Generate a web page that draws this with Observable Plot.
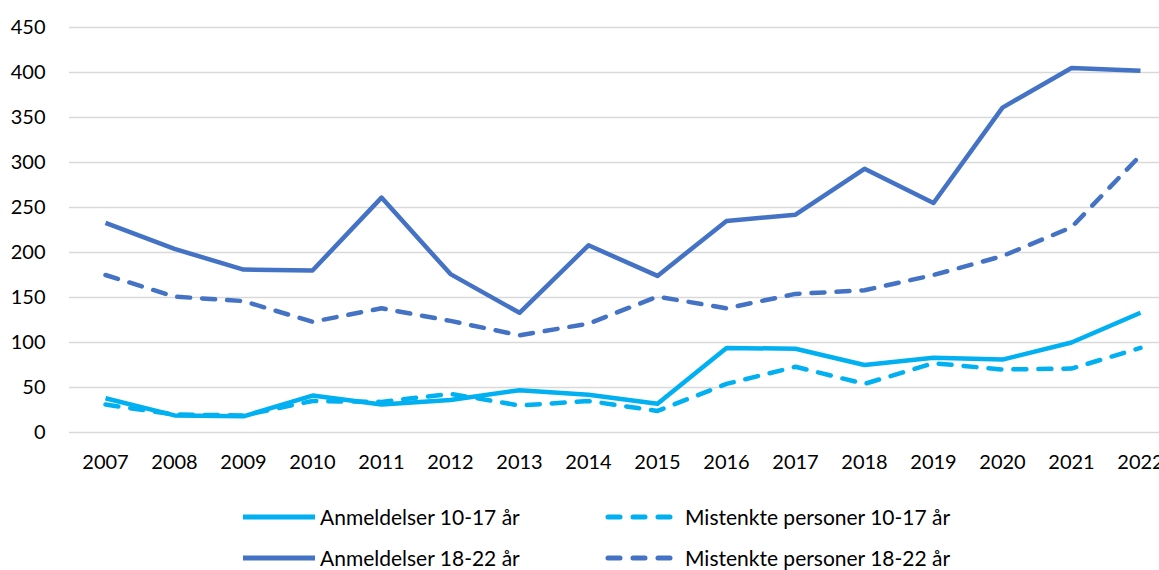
<!DOCTYPE html>
<html>
<head>
<meta charset="utf-8">
<script src="https://cdn.jsdelivr.net/npm/d3@7"></script>
<script src="https://cdn.jsdelivr.net/npm/@observablehq/plot@0.6"></script>
<style>
  html, body { margin: 0; padding: 0; background: #fff; overflow: hidden; }
  body { font-family: Lato, "Open Sans", sans-serif; width: 1159px; }
  #legend { position: relative; height: 90px; font-size: 21px; color: #000; }
  .row { display: flex; align-items: center; height: 41px; padding-left: 243px; }
  .item { display: flex; align-items: center; }
  .item.first { width: 362px; }
  .item svg { margin-right: 5px; }
</style>
</head>
<body>
<div id="chart"></div>
<div id="legend"></div>
<script>
const years = [2007,2008,2009,2010,2011,2012,2013,2014,2015,2016,2017,2018,2019,2020,2021,2022];
const anmeldelser1017 = [38,19,18,41,31,36,47,42,32,94,93,75,83,81,100,133];
const mistenkte1017   = [31,20,19,35,34,43,30,35,24,54,73,54,77,70,71,94];
const anmeldelser1822 = [233,204,181,180,261,176,133,208,174,235,242,293,255,361,405,402];
const mistenkte1822   = [175,151,146,123,138,124,108,121,151,138,154,158,175,196,228,308];
const yTicks = [0,50,100,150,200,250,300,350,400,450];

const series = [
  {name: "Anmeldelser 10-17 år", values: anmeldelser1017, color: "#00B0F0", dashed: false},
  {name: "Mistenkte personer 10-17 år", values: mistenkte1017, color: "#00B0F0", dashed: true},
  {name: "Anmeldelser 18-22 år", values: anmeldelser1822, color: "#4472C4", dashed: false},
  {name: "Mistenkte personer 18-22 år", values: mistenkte1822, color: "#4472C4", dashed: true}
];
const rows = series.map(s => years.map((yr, i) => ({year: String(yr), value: s.values[i]})));
const DASH = "13,12";

const chart = Plot.plot({
  width: 1159,
  height: 480,
  marginLeft: 69,
  marginRight: 0,
  marginTop: 27,
  marginBottom: 48,
  style: {fontFamily: "Lato, 'Open Sans', sans-serif", fontSize: "20px", color: "#000", background: "#fff"},
  x: {type: "point", domain: years.map(String), range: [104, 1141], padding: 0, label: null},
  y: {domain: [0, 450], label: null},
  marks: [
    Plot.ruleY(yTicks, {stroke: "#d9d9d9", strokeWidth: 1.5, strokeOpacity: 1}),
    Plot.axisY(yTicks, {tickSize: 0, tickPadding: 24, label: null, fontSize: 20}),
    Plot.axisX({tickSize: 0, tickPadding: 22, label: null, fontSize: 20}),
    ...series.map((s, k) => Plot.line(rows[k], {
      x: "year", y: "value", stroke: s.color, strokeWidth: 4.5,
      strokeDasharray: s.dashed ? DASH : null,
      strokeLinecap: s.dashed ? "round" : "butt",
      strokeLinejoin: "round"
    }))
  ]
});
document.getElementById("chart").appendChild(chart);

const legend = document.getElementById("legend");
legend.style.paddingTop = "16px";
for (let r = 0; r < 2; r++) {
  const row = document.createElement("div");
  row.className = "row";
  [series[r * 2], series[r * 2 + 1]].forEach((s, c) => {
    const item = document.createElement("div");
    item.className = "item" + (c === 0 ? " first" : "");
    const w = s.dashed ? 70 : 72;
    const sw = `<svg width="${w}" height="10"><line x1="${s.dashed ? 3 : 0}" y1="5" x2="${s.dashed ? 67 : 72}" y2="5" stroke="${s.color}" stroke-width="5" ${s.dashed ? `stroke-dasharray="12,13" stroke-linecap="round"` : ""}/></svg>`;
    item.innerHTML = sw + `<span>${s.name}</span>`;
    if (s.dashed) item.querySelector("svg").style.marginRight = "10px";
    row.appendChild(item);
  });
  legend.appendChild(row);
}
</script>
</body>
</html>
